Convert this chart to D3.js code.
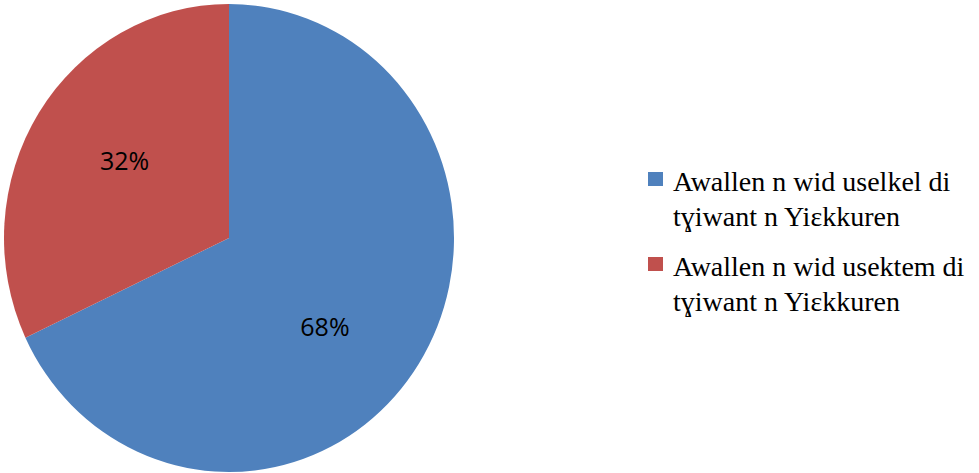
<!DOCTYPE html>
<html><head><meta charset="utf-8">
<script src="https://cdn.jsdelivr.net/npm/d3@7"></script>
<style>body{margin:0;background:#fff}</style>
</head><body>
<svg id="chart" width="979" height="473"></svg>
<script>
const categories = ["Awallen n wid uselkel di tɣiwant n Yiɛkkuren", "Awallen n wid usektem di tɣiwant n Yiɛkkuren"];
const legendLines = [["Awallen n wid uselkel di", "tɣiwant n Yiɛkkuren"], ["Awallen n wid usektem di", "tɣiwant n Yiɛkkuren"]];
const values = [68, 32];
const colors = ["#4F81BD", "#C0504D"];

const svg = d3.select("#chart");
const cx = 229, cy = 238, rx = 225, ry = 234;
const pie = d3.pie().sort(null).value(d => d);
const arcs = pie(values);
const arc = d3.arc().innerRadius(0).outerRadius(rx);
const g = svg.append("g").attr("transform", `translate(${cx},${cy}) scale(1,${ry/rx})`);
g.selectAll("path").data(arcs).join("path")
  .attr("d", arc).attr("fill", (d, i) => colors[i]);

const total = d3.sum(values);
const labelArc = d3.arc().innerRadius(rx * 0.57).outerRadius(rx * 0.57);
// Excel-like label placement: labels sit slightly clockwise of the slice midpoint
const shiftAngle = d => {
  const s = d.index === 0 ? 0.16 : 0.055;
  return {startAngle: d.startAngle + s, endAngle: d.endAngle + s};
};
svg.append("g").attr("transform", `translate(${cx},${cy})`)
  .selectAll("text").data(arcs).join("text")
  .attr("x", d => labelArc.centroid(shiftAngle(d))[0])
  .attr("y", d => labelArc.centroid(shiftAngle(d))[1] * ry / rx)
  .attr("text-anchor", "middle").attr("dominant-baseline", "central")
  .attr("font-family", "'Open Sans', sans-serif").attr("font-size", 25)
  .attr("fill", "#000")
  .text(d => Math.round(d.data / total * 100) + "%");

const leg = svg.append("g");
const items = leg.selectAll("g").data(legendLines).join("g")
  .attr("transform", (d, i) => `translate(648,${172 + i * 85})`);
items.append("rect").attr("width", 15).attr("height", 14).attr("fill", (d, i) => colors[i]);
items.append("text").attr("x", 25).attr("y", 19)
  .attr("font-family", "'Liberation Serif', 'DejaVu Serif', 'Times New Roman', serif").attr("font-size", 28)
  .attr("fill", "#000")
  .selectAll("tspan").data(d => d).join("tspan")
  .attr("x", 25).attr("dy", (d, i) => i === 0 ? 0 : 35).text(d => d);
</script>
</body></html>
